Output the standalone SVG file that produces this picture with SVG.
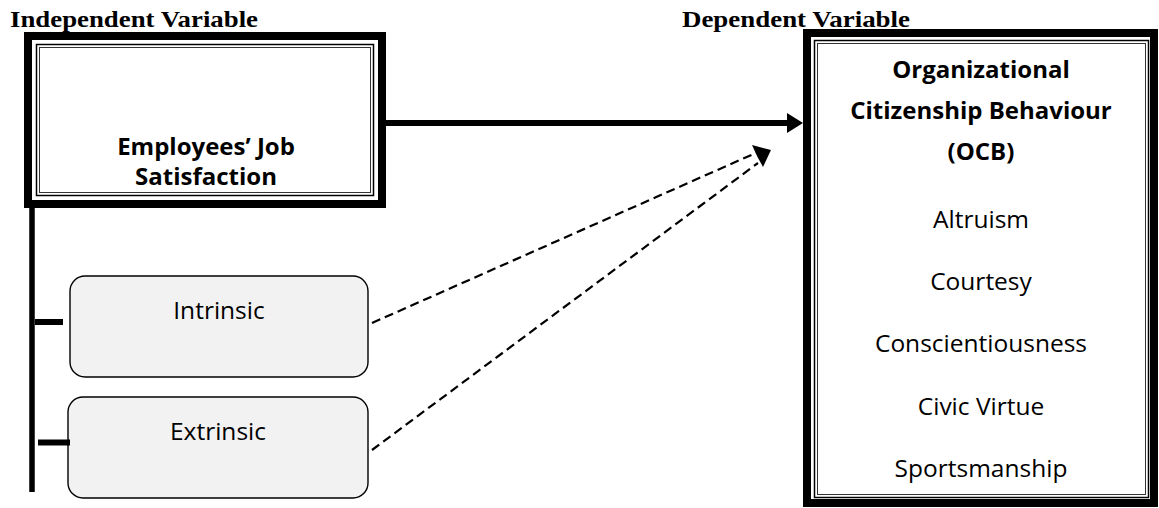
<svg xmlns="http://www.w3.org/2000/svg" width="1159" height="508" viewBox="0 0 1159 508">
<style>
.title{font-family:"Liberation Serif","Times New Roman",serif;font-weight:bold;font-size:23px;fill:#000}
.b{font-family:"Open Sans","Noto Sans",sans-serif;font-weight:bold;font-size:24px;fill:#000;text-anchor:middle}
.n{font-family:"Open Sans","Noto Sans",sans-serif;font-size:24.5px;fill:#000;text-anchor:middle}
.thick{fill:none;stroke:#000;stroke-width:8}
.thin1{fill:none;stroke:#000;stroke-width:1.5}
.thin2{fill:none;stroke:#333;stroke-width:1}
.sub{fill:#f2f2f2;stroke:#000;stroke-width:1.4}
.dash{fill:none;stroke:#000;stroke-width:2.2;stroke-dasharray:9 5}
.bar{stroke:#000;stroke-width:6;fill:none}
</style>
<rect width="1159" height="508" fill="#fff"/>
<text class="title" x="10" y="27" textLength="248" lengthAdjust="spacingAndGlyphs">Independent Variable</text>
<g id="node-jobsat">
<rect class="thick" x="28" y="36" width="354" height="168"/>
<rect class="thin1" x="36.5" y="44.5" width="337" height="151"/>
<rect class="thin2" x="39.5" y="47.5" width="331" height="145"/>
<text class="b" x="206" y="155">Employees’ Job</text>
<text class="b" x="206" y="185">Satisfaction</text>
</g>
<g id="node-ocb">
<rect class="thick" x="807" y="33" width="347" height="470"/>
<rect class="thin1" x="814.5" y="40.5" width="334" height="457"/>
<rect class="thin2" x="817.5" y="43.5" width="328" height="451"/>
<text class="b" x="981" y="78">Organizational</text>
<text class="b" x="981" y="119">Citizenship Behaviour</text>
<text class="b" x="981" y="160">(OCB)</text>
<text class="n" x="981" y="228">Altruism</text>
<text class="n" x="981" y="290">Courtesy</text>
<text class="n" x="981" y="352">Conscientiousness</text>
<text class="n" x="981" y="415">Civic Virtue</text>
<text class="n" x="981" y="477">Sportsmanship</text>
</g>
<text class="title" x="682" y="27" textLength="228" lengthAdjust="spacingAndGlyphs">Dependent Variable</text>
<g id="node-intrinsic">
<rect class="sub" x="70" y="276" width="298" height="101" rx="15" ry="15"/>
<text class="n" x="219" y="319">Intrinsic</text>
</g>
<g id="node-extrinsic">
<rect class="sub" x="68" y="397" width="300" height="101" rx="15" ry="15"/>
<text class="n" x="218" y="440">Extrinsic</text>
</g>
<g id="connectors">
<line class="bar" x1="32" y1="208" x2="32" y2="492" style="stroke-width:5.5"/>
<line class="bar" x1="35" y1="322" x2="63" y2="322"/>
<line class="bar" x1="38" y1="442.5" x2="70" y2="442.5"/>
<line class="bar" x1="386" y1="123" x2="789" y2="123"/>
<polygon points="787,113 803,123 787,133" fill="#000"/>
<line class="dash" x1="372" y1="323" x2="758" y2="152"/>
<line class="dash" x1="372" y1="450" x2="758" y2="163"/>
<polygon points="752,145 771,150 763,167 757,156" fill="#000"/>
</g>
</svg>
